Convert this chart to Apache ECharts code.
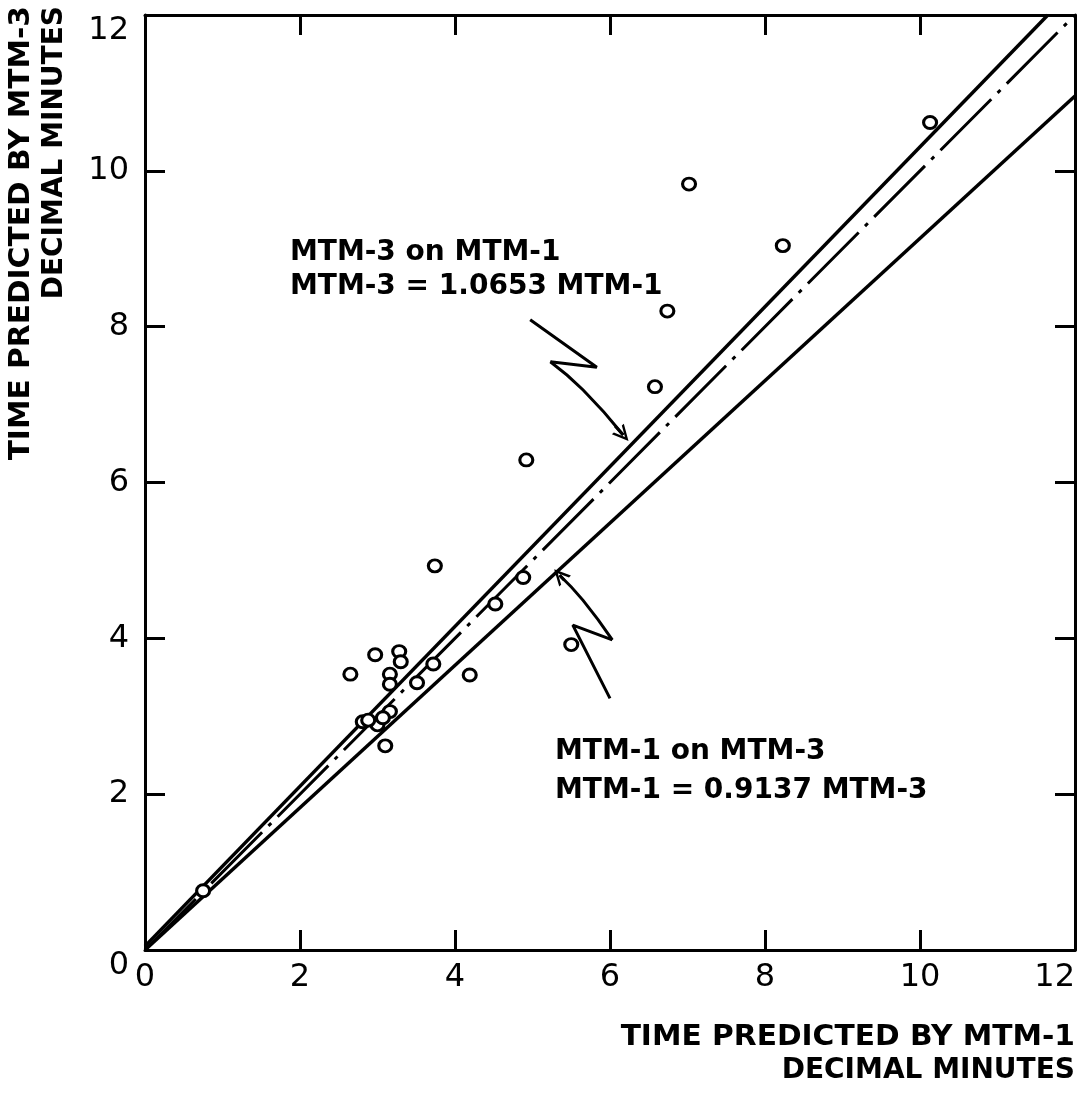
<!DOCTYPE html>
<html><head><meta charset="utf-8">
<script src="https://cdn.jsdelivr.net/npm/echarts@6/dist/echarts.min.js"></script>
<style>html,body{margin:0;padding:0;background:#fff}#c{width:1082px;height:1094px}</style>
</head><body><div id="c"></div>
<script>
// ---- data ----
const tickLabels = ['0', '2', '4', '6', '8', '10', '12'];
const observations = [
  [10.13, 10.62], [7.02, 9.83], [8.23, 9.04], [6.74, 8.20], [6.58, 7.23],
  [4.92, 6.29], [3.74, 4.93], [4.88, 4.78], [4.52, 4.44], [5.50, 3.92],
  [4.19, 3.53], [3.72, 3.67], [3.51, 3.43], [2.65, 3.54], [2.97, 3.79],
  [3.28, 3.83], [3.30, 3.70], [3.16, 3.54], [3.16, 3.41], [3.16, 3.06],
  [3.00, 2.89], [3.07, 2.98], [3.10, 2.62], [2.81, 2.93], [2.88, 2.95],
  [0.75, 0.76]
];
const fitLine = [[0, 0], [12, 12]];
const upperLine = [[0, 0.05], [11.65, 12]];
const lowerLine = [[0, 0], [12, 10.96]];
const arrow1Zig = [[4.97, 8.09], [5.83, 7.48], [5.23, 7.55]];
const arrow1Curve = [[5.23, 7.55], [5.65, 7.19], [6.17, 6.61]];
const arrow2Zig = [[6.00, 3.23], [5.52, 4.17], [6.03, 3.98]];
const arrow2Curve = [[6.03, 3.98], [5.65, 4.49], [5.35, 4.81]];
const noteTexts = ['MTM-3 on MTM-1', 'MTM-3 = 1.0653 MTM-1', 'MTM-1 on MTM-3', 'MTM-1 = 0.9137 MTM-3'];
const noteAnchors = [[1.87, 8.95], [1.87, 8.51], [5.29, 2.55], [5.29, 2.05]];
const xTitle = ['TIME PREDICTED BY MTM-1', 'DECIMAL MINUTES'];
const yTitle = ['TIME PREDICTED BY MTM-3', 'DECIMAL MINUTES'];

// ---- chart ----
const FONT = 'DejaVu Sans';
const chart = echarts.init(document.getElementById('c'), null, {renderer: 'canvas'});
const axisLine = {show: true, onZero: false, lineStyle: {color: '#000', width: 3}};
const axisTick = {show: true, inside: true, length: 20, lineStyle: {color: '#000', width: 3}};
const fmt = v => tickLabels[Math.round(v / 2)];

function arrowSeries(zig, curve) {
  const a = curve[curve.length - 2], b = curve[curve.length - 1];
  const from = [a[0] + (b[0] - a[0]) * 0.8, a[1] + (b[1] - a[1]) * 0.8];
  return [
    {type: 'line', data: zig, showSymbol: false, silent: true, z: 3,
     lineStyle: {color: '#000', width: 3}},
    {type: 'line', data: curve, smooth: 0.5, showSymbol: false, silent: true, z: 3,
     lineStyle: {color: '#000', width: 3},
     markLine: {silent: true, symbol: ['none', 'path://M0,12 L6,0 L12,12 L10,12 L6,4 L2,12 Z'], symbolSize: [16, 16],
       label: {show: false}, lineStyle: {color: '#000', width: 3, type: 'solid'},
       data: [[{coord: from}, {coord: b}]]}}
  ];
}

const option = {
  backgroundColor: '#fff',
  animation: false,
  grid: {left: 145, right: 7, top: 15, bottom: 144, containLabel: false, outerBoundsMode: 'none'},
  xAxis: [
    {type: 'value', min: 0, max: 12, interval: 2, position: 'bottom', axisLine, axisTick,
     splitLine: {show: false},
     axisLabel: {color: '#000', fontSize: 32, fontFamily: FONT, margin: 12, formatter: fmt, alignMaxLabel: 'right'}},
    {type: 'value', min: 0, max: 12, interval: 2, position: 'top', axisLine, axisTick,
     splitLine: {show: false}, axisLabel: {show: false}}
  ],
  yAxis: [
    {type: 'value', min: 0, max: 12, interval: 2, position: 'left', axisLine, axisTick,
     splitLine: {show: false},
     axisLabel: {color: '#000', fontSize: 32, fontFamily: FONT, margin: 16, formatter: fmt,
       verticalAlignMinLabel: 'top', verticalAlignMaxLabel: 'top'}},
    {type: 'value', min: 0, max: 12, interval: 2, position: 'right', axisLine, axisTick,
     splitLine: {show: false}, axisLabel: {show: false}}
  ],
  series: [
    {type: 'line', data: upperLine, showSymbol: false, silent: true, z: 2,
     lineStyle: {color: '#000', width: 3.5}},
    {type: 'line', data: lowerLine, showSymbol: false, silent: true, z: 2,
     lineStyle: {color: '#000', width: 3.5}},
    {type: 'line', data: fitLine, showSymbol: false, silent: true, z: 2,
     lineStyle: {color: '#000', width: 3, type: [72, 9, 4, 9], cap: 'butt'}},
    ...arrowSeries(arrow1Zig, arrow1Curve),
    ...arrowSeries(arrow2Zig, arrow2Curve),
    {type: 'scatter', data: observations, symbol: 'circle', symbolSize: [13, 12], z: 5, silent: true,
     itemStyle: {color: '#fff', borderColor: '#000', borderWidth: 3, opacity: 1}}
  ]
};
chart.setOption(option);

const graphics = [];
noteTexts.forEach((t, i) => {
  const p = chart.convertToPixel({xAxisIndex: 0, yAxisIndex: 0}, noteAnchors[i]);
  graphics.push({type: 'text', x: p[0], y: p[1], silent: true,
    style: {text: t, fill: '#000', font: 'bold 28px "' + FONT + '"', textAlign: 'left', textVerticalAlign: 'middle'}});
});
const titleFont = 'bold 28px "' + FONT + '"';
graphics.push({type: 'text', x: 1075, y: 1038, scaleX: 1.06, silent: true,
  style: {text: xTitle[0], fill: '#000', font: titleFont, textAlign: 'right', textVerticalAlign: 'middle'}});
graphics.push({type: 'text', x: 1075, y: 1071, silent: true,
  style: {text: xTitle[1], fill: '#000', font: titleFont, textAlign: 'right', textVerticalAlign: 'middle'}});
graphics.push({type: 'text', x: 22, y: 6, rotation: Math.PI / 2, scaleX: 1.06, silent: true,
  style: {text: yTitle[0], fill: '#000', font: titleFont, textAlign: 'right', textVerticalAlign: 'middle'}});
graphics.push({type: 'text', x: 55, y: 6, rotation: Math.PI / 2, silent: true,
  style: {text: yTitle[1], fill: '#000', font: titleFont, textAlign: 'right', textVerticalAlign: 'middle'}});
chart.setOption({graphic: graphics});
</script></body></html>
